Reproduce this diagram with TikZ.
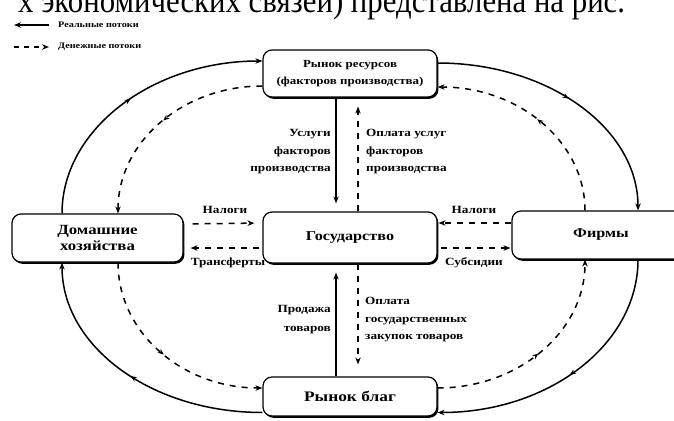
\documentclass[tikz,border=0pt]{standalone}
\usepackage{fontspec}
\setmainfont{Liberation Serif}
\newfontfamily\widefont[FakeStretch=1.2]{Liberation Serif}
\newfontfamily\narrowfont[FakeStretch=0.88]{Liberation Serif}
\usetikzlibrary{arrows.meta,decorations.markings,shadows}
\begin{document}
\begin{tikzpicture}[x=1pt,y=-1pt,
  box/.style={draw,line width=1.2pt,rounded corners=9pt,fill=white,inner sep=0pt,align=center,
    font=\widefont\bfseries\fontsize{13.5}{15}\selectfont,
    drop shadow={shadow xshift=1.4pt,shadow yshift=-1.8pt,fill=black,opacity=1}},
  tip/.tip={Stealth[length=7pt,width=5.5pt]},
  real/.style={line width=1.5pt,-tip},
  money/.style={line width=1.5pt,dash pattern=on 6pt off 6pt,-tip},
  midarrow/.style={postaction={decorate},decoration={markings,
    mark=at position 0.5 with {\arrow{Stealth[length=6pt,width=5pt]}}}},
  lbl/.style={font=\widefont\bfseries\fontsize{11}{17.5}\selectfont,inner sep=0pt},
  legend/.style={font=\widefont\bfseries\fontsize{8.5}{10}\selectfont,inner sep=0pt,anchor=west}]
\useasboundingbox (0,0) rectangle (674,420);
\clip (0,0) rectangle (674,420);

% page text cut at top
\node[anchor=base west,inner sep=0pt,font=\narrowfont\fontsize{35}{35}\selectfont] (pagetext) at (18,13) {х экономических связей) представлена на рис.};

% legend
\node[legend] (lreal) at (58,25) {Реальные потоки};
\node[legend] (lmoney) at (58,47) {Денежные потоки};
\coordinate (lrealA) at (14,25);
\coordinate (lmoneyA) at (14,47);
\draw[real,line width=1.2pt] ([xshift=-9pt]lreal.west) -- (lrealA);
\draw[money,line width=1.2pt,dash pattern=on 5pt off 5pt] (lmoneyA) -- ([xshift=-9pt]lmoney.west);

% boxes
\node[box,minimum width=174pt,minimum height=47pt,font=\widefont\bfseries\fontsize{10.8}{17}\selectfont] (rr) at (350,73.5) {Рынок ресурсов\\(факторов производства)};
\node[box,minimum width=174pt,minimum height=51pt] (gov) at (350,237.5) {Государство};
\node[box,minimum width=174pt,minimum height=39pt,font=\widefont\bfseries\fontsize{14.5}{15}\selectfont] (gm) at (350,396.5) {Рынок благ};
\node[box,minimum width=171pt,minimum height=48pt,font=\widefont\bfseries\fontsize{14}{15.5}\selectfont] (hh) at (97.5,238) {Домашние\\хозяйства};
\node[box,minimum width=178pt,minimum height=48pt] (firm) at (601,235) {Фирмы};

% outer real loop
\draw[real,midarrow] ([xshift=-35.5pt]hh.north) .. controls +(0,-84) and +(-110,0) .. ([yshift=12.5pt]rr.west);
\draw[real,midarrow] ([yshift=10.5pt]rr.east) .. controls +(111,0) and +(0,-82) .. ([xshift=37pt]firm.north);
\draw[real,midarrow] ([xshift=37pt]firm.south) .. controls +(0,85) and +(111,0) .. ([yshift=-16pt]gm.east);
\draw[real,midarrow] ([yshift=-16pt]gm.west) .. controls +(-111,0) and +(0,84) .. ([xshift=-35.5pt]hh.south);

% inner money loop
\draw[money,midarrow] ([yshift=-12.5pt]rr.west) .. controls +(-80,0) and +(0,-71) .. ([xshift=20.5pt]hh.north);
\draw[money,midarrow] ([xshift=-16pt]firm.north) .. controls +(0,-68) and +(82,0) .. ([yshift=-13.5pt]rr.east);
\draw[money,midarrow] ([yshift=8.5pt]gm.east) .. controls +(82,0) and +(0,71) .. ([xshift=-16pt]firm.south);
\draw[money,midarrow] ([xshift=20.5pt]hh.south) .. controls +(0,70) and +(-80,0) .. ([yshift=8.5pt]gm.west);

% vertical flows
\draw[real,shorten >=8pt] ([xshift=-14pt]rr.south) -- ([xshift=-14pt]gov.north);
\draw[money,shorten >=9pt] ([xshift=8pt]gov.north) -- ([xshift=8pt]rr.south);
\draw[real,shorten >=9pt] ([xshift=-14pt]gm.north) -- ([xshift=-14pt]gov.south);
\draw[money,shorten >=12pt] ([xshift=8pt]gov.south) -- ([xshift=8pt]gm.north);

% horizontal flows
\draw[money,shorten <=9pt,shorten >=8pt] ([yshift=14pt]hh.east) -- ([yshift=14.5pt]gov.west);
\draw[money,shorten <=3pt,shorten >=7pt] ([yshift=-10.5pt]gov.west) -- ([yshift=-10pt]hh.east);
\draw[money,shorten >=1pt] ([yshift=12pt]firm.west) -- ([yshift=14.5pt]gov.east);
\draw[money,shorten <=3pt,shorten >=1pt] ([yshift=-10.5pt]gov.east) -- ([yshift=-13pt]firm.west);

% labels
\node[lbl] (l1) at (225,210) {Налоги};
\node[lbl] (l2) at (228,263) {Трансферты};
\node[lbl] (l3) at (474,210) {Налоги};
\node[lbl] (l4) at (474,263) {Субсидии};
\node[lbl,anchor=east,align=right] (l5) at (331,152) {Услуги\\факторов\\производства};
\node[lbl,anchor=west,align=left] (l6) at (366,152) {Оплата услуг\\факторов\\производства};
\node[lbl,anchor=east,align=right,font=\widefont\bfseries\fontsize{11}{19}\selectfont] (l7) at (331,319.5) {Продажа\\товаров};
\node[lbl,anchor=west,align=left] (l8) at (365,320) {Оплата\\государственных\\закупок товаров};
\end{tikzpicture}
\end{document}
